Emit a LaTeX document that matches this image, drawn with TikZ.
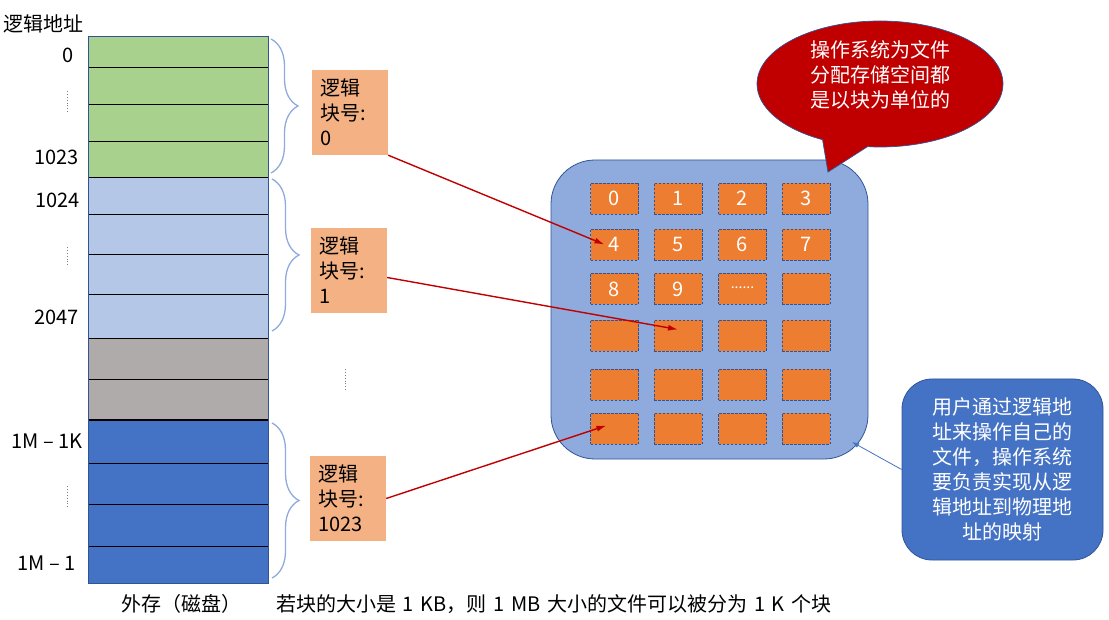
\documentclass[tikz,border=0pt]{standalone}
\usepackage{fontspec}
\setmainfont{Noto Sans CJK SC}
\usetikzlibrary{arrows.meta,shapes.callouts,decorations.pathreplacing}

\definecolor{cgreen}{HTML}{A9D18E}
\definecolor{clblue}{HTML}{B4C7E7}
\definecolor{cgray}{HTML}{AFABAB}
\definecolor{cblue}{HTML}{4472C4}
\definecolor{cpeach}{HTML}{F4B183}
\definecolor{corange}{HTML}{ED7D31}
\definecolor{cpanel}{HTML}{8FAADC}
\definecolor{cedge}{HTML}{2F5597}
\definecolor{cred}{HTML}{C00000}

\begin{document}
\begin{tikzpicture}[x=1pt,y=-1pt,>=Latex,
  every node/.style={font=\fontsize{20}{25}\selectfont,inner sep=0pt},
  numlabel/.style={anchor=east},
  vdots/.style={gray,dotted,line width=0.9pt},
  blockbrace/.style={draw=cpanel,line width=1.3pt,decorate,decoration={brace,amplitude=27pt}},
  lbox/.style={fill=cpeach,text width=60pt,align=left,inner sep=8pt,minimum height=85pt},
  blk/.style={draw=cedge,fill=corange,dash pattern=on 2.5pt off 1.5pt,line width=0.7pt,
    minimum width=48pt,minimum height=31pt,text=white},
  maparrow/.style={-{Latex[length=10pt,width=6pt]},cred,line width=1.4pt}]
  \useasboundingbox (0,0) rectangle (1109,620);

  % memory column (logical address space)
  \foreach \ya/\yb/\col in {36/67/cgreen,67/104/cgreen,104/141/cgreen,141/177/cgreen,
      177/214/clblue,214/254/clblue,254/294/clblue,294/338/clblue,
      338/379/cgray,379/419/cgray,
      420/463/cblue,463/504/cblue,504/546/cblue,546/583/cblue}
    \filldraw[fill=\col,draw=black,line width=0.8pt] (88,\ya) rectangle (268,\yb);
  \draw[cedge,line width=0.8pt] (88,36) rectangle (268,583);

  \node[anchor=west] (title) at (3,24) {逻辑地址};
  \node[numlabel] (a0) at (74,55) {0};
  \node[numlabel] (a1023) at (79,157) {1023};
  \node[numlabel] (a1024) at (80,200) {1024};
  \node[numlabel] (a2047) at (79,317) {2047};
  \node[numlabel] (a1mk) at (83,441) {1M – 1K};
  \node[numlabel] (a1m) at (76,563) {1M – 1};
  \draw[vdots] (67,91) -- (67,112);
  \draw[vdots] (67,247) -- (67,267);
  \draw[vdots] (67,486) -- (67,507);
  \draw[vdots] (345,369) -- (345,390);

  % braces and logical block numbers
  \draw[blockbrace] (271,39) -- (271,173);
  \draw[blockbrace] (272,179) -- (272,331);
  \draw[blockbrace] (272,423) -- (272,578);
  \node[lbox] (lb0) at (350,112.5) {逻辑\\块号:\\0};
  \node[lbox] (lb1) at (349,270.5) {逻辑\\块号:\\1};
  \node[lbox] (lb2) at (348,498.5) {逻辑\\块号:\\1023};

  % physical blocks
  \node[draw=cedge,fill=cpanel,line width=0.8pt,rounded corners=44pt,
    minimum width=317pt,minimum height=299pt] (disk) at (709.5,309.5) {};
  \foreach \r/\y in {0/198.5,1/244.5,2/289,3/335.5,4/384.5,5/428.5}
    \foreach \c/\x in {0/614.5,1/678,2/742.5,3/806} {
      \pgfmathtruncatemacro{\n}{4*\r+\c}
      \node[blk] (blk\n) at (\x,\y) {\ifnum\n<10 \n\else\ifnum\n=10 \raisebox{0.3ex}{\fontsize{14}{14}\selectfont......}\fi\fi};
    }

  \draw[maparrow] (lb0.south east) -- ([xshift=-10pt]blk4.center);
  \draw[maparrow] ([yshift=-7pt]lb1.east) -- ([yshift=6pt]blk13.center);
  \draw[maparrow] (lb2.east) -- ([xshift=-8pt,yshift=3pt]blk20.center);

  % callouts
  \node[ellipse callout,fill=cred,draw=cedge,line width=0.7pt,
    minimum width=246pt,minimum height=126pt,callout pointer arc=22,
    callout absolute pointer={(828,172)}] (bubble) at (880,84) {};
  \node[text=white,align=center] (bubbletext) at (880,75)
    {操作系统为文件\\分配存储空间都\\是以块为单位的};
  \node[draw=cedge,fill=cblue,line width=0.8pt,rounded corners=30pt,
    minimum width=201pt,minimum height=181pt,text=white,align=center] (note)
    at (1002.5,469.5) {用户通过逻辑地\\址来操作自己的\\文件，操作系统\\要负责实现从逻\\辑地址到物理地\\址的映射};
  \coordinate (corner) at (852,442);
  \draw[-{Latex[length=7pt,width=5pt]},cblue,line width=0.8pt] (note.west) -- (corner);

  % captions
  \node (disklabel) at (181,604) {外存（磁盘）};
  \node[anchor=west] (sizenote) at (276,604)
    {\spaceskip=6.7pt\relax 若块的大小是 1 KB，则 1 MB 大小的文件可以被分为 1 K 个块};
\end{tikzpicture}
\end{document}
